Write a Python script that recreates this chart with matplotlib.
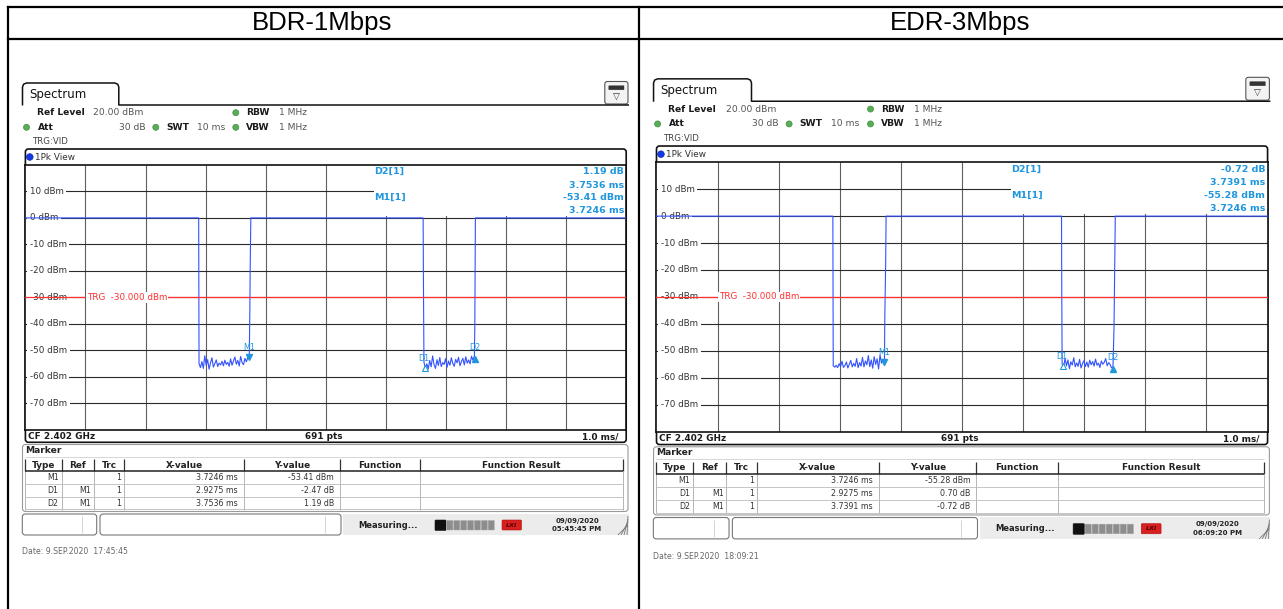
import numpy as np
import matplotlib.pyplot as plt
from matplotlib.patches import FancyBboxPatch, Rectangle, Circle
from matplotlib.transforms import offset_copy

W, H = 1283, 609

titles = ['BDR-1Mbps', 'EDR-3Mbps']

# analyzer settings shown in the header
ref_level = 20.0
att_db = 30
swt_ms = 10
rbw = '1 MHz'
vbw = '1 MHz'
cf = 'CF 2.402 GHz'
n_pts = 691
trg_level = -30.0

level_ticks = [10, 0, -10, -20, -30, -40, -50, -60, -70]
time_grid = [1, 2, 3, 4, 5, 6, 7, 8, 9]

# trace pieces: burst edges (ms, dBm) around the two gaps
bdr_edges = [[(0.0, 0.0), (2.884, 0.0)],
             [(3.735, -36.3), (3.742, -18.0), (3.752, 0.0), (6.620, 0.0), (6.626, -27.0)],
             [(7.480, -41.4), (7.490, 0.0), (10.0, 0.0)]]
bdr_gaps = [(2.890, 3.726), (6.634, 7.473)]
bdr_noise_1 = [-55.2, -56.6, -54.3, -56.9, -52.1, -55.8, -53.6, -57.2, -54.8, -52.9,
               -56.4, -55.1, -53.7, -56.2, -54.9, -55.6, -54.2, -55.9, -53.8, -55.4,
               -54.6, -56.1, -53.3, -55.7, -54.1, -52.6, -55.3, -53.9, -56.0, -52.4,
               -54.7, -55.5, -53.1, -54.4, -52.8, -53.4]
bdr_noise_2 = [-54.6, -56.8, -55.2, -57.1, -53.9, -56.3, -52.2, -55.5, -56.9, -53.6,
               -55.8, -52.8, -56.2, -54.7, -55.4, -53.2, -56.5, -54.1, -55.7, -52.9,
               -55.0, -56.1, -53.5, -54.8, -52.7, -55.9, -54.3, -53.1, -55.6, -52.5,
               -54.9, -53.7, -55.2, -52.3, -53.8, -52.2]

edr_edges = [[(0.0, 0.0), (2.886, 0.0)],
             [(3.737, -36.4), (3.750, -18.3), (3.757, 0.0), (6.628, 0.0), (6.632, -27.6)],
             [(7.487, -41.3), (7.508, 0.0), (10.0, 0.0)]]
edr_gaps = [(2.892, 3.730), (6.638, 7.470)]
edr_noise_1 = [-55.6, -56.1, -55.4, -56.3, -54.8, -55.9, -53.9, -56.2, -55.5, -54.2,
               -56.4, -55.0, -53.6, -56.0, -54.7, -55.8, -52.9, -56.3, -54.4, -55.7,
               -52.5, -56.0, -53.8, -55.2, -51.8, -55.9, -53.4, -56.5, -52.2, -55.1,
               -53.0, -56.8, -51.6, -54.6, -53.2, -55.3]
edr_noise_2 = [-54.9, -56.2, -52.8, -55.6, -53.4, -56.7, -54.1, -55.3, -52.6, -56.0,
               -54.5, -55.8, -53.2, -56.4, -54.8, -53.7, -55.9, -54.2, -56.1, -53.5,
               -55.2, -54.0, -55.7, -53.1, -55.4, -54.6, -56.2, -53.8, -55.0, -54.3,
               -52.9, -55.6, -54.4, -55.1, -56.3, -56.0]

# marker table: M1 absolute, D1/D2 relative to M1
mk_names = ['M1', 'D1', 'D2']
mk_refs = ['', 'M1', 'M1']
bdr_mk_x = [3.7246, 2.9275, 3.7536]
bdr_mk_y = [-53.41, -2.47, 1.19]
edr_mk_x = [3.7246, 2.9275, 3.7391]
edr_mk_y = [-55.28, 0.70, -0.72]

bdr_stamp = ['09/09/2020', '05:45:45 PM', 'Date: 9.SEP.2020  17:45:45']
edr_stamp = ['09/09/2020', '06:09:20 PM', 'Date: 9.SEP.2020  18:09:21']

BLUE = '#1f96de'
TRACE = '#3352ff'
RED = '#ff3030'
FONT = 'DejaVu Sans'


def build_trace(edges, gaps, n1, n2):
    t, l = [], []
    pieces = [edges[0], list(zip(np.linspace(*gaps[0], len(n1)), n1)),
              edges[1], list(zip(np.linspace(*gaps[1], len(n2)), n2)), edges[2]]
    for p in pieces:
        for a, b in p:
            t.append(a)
            l.append(b)
    return t, l


fig = plt.figure(figsize=(W / 100, H / 100), dpi=100)
bg = fig.add_axes([0, 0, 1, 1])
bg.set_xlim(0, W)
bg.set_ylim(H, 0)
bg.axis('off')

# outer table
bg.plot([8, W], [6.5, 6.5], color='k', lw=1.6)
bg.plot([8, W], [39, 39], color='k', lw=1.6)
bg.plot([8, 8], [6.5, H], color='k', lw=1.6)
bg.plot([638.5, 638.5], [6.5, H], color='k', lw=1.6)
bg.text(322, 23, titles[0], ha='center', va='center', fontsize=18.5, family='Liberation Sans')
bg.text(960, 23, titles[1], ha='center', va='center', fontsize=18.5, family='Liberation Sans')


def draw_panel(ox, oy, sx, sy, tr_t, tr_l, mk_x, mk_y, stamp):
    def P(x, y):
        return ox + (x - 25.4) * sx, oy + (y - 165.0) * sy

    def txt(x, y, s, size=6.6, **kw):
        X, Y = P(x, y)
        kw.setdefault('va', 'center')
        kw.setdefault('color', '#1a1a1a')
        bg.text(X, Y, s, fontsize=size, family=FONT, **kw)

    def seg(xs, ys, **kw):
        pts = np.array([P(x, y) for x, y in zip(xs, ys)])
        bg.plot(pts[:, 0], pts[:, 1], solid_capstyle='butt', **kw)

    def rbox(x0, y0, x1, y1, r=3.0, **kw):
        X0, Y0 = P(x0, y0)
        X1, Y1 = P(x1, y1)
        bg.add_patch(FancyBboxPatch((X0, Y0), X1 - X0, Y1 - Y0,
                                    boxstyle=f'round,pad=0,rounding_size={r}', **kw))

    def dot(x, y, r=3.0, fc='#58ad58', ec='#3f8f3f'):
        X, Y = P(x, y)
        bg.add_patch(Circle((X, Y), r, fc=fc, ec=ec, lw=0.5))

    # Spectrum tab and settings
    seg([22.5, 22.5, 23.6, 26.5, 114.8, 117.7, 118.8, 118.8, 629],
        [105.5, 87, 84.2, 83, 83, 84.2, 87, 105, 105], color='#111', lw=1.1)
    txt(29.5, 94.5, 'Spectrum', size=8.5, color='#111')
    rbox(604.8, 81.5, 628, 104, r=2.5, fc='#f3f3f3', ec='#555', lw=0.8)
    rbox(608.8, 85.8, 624, 89.8, r=0.4, fc='#333', ec='#333', lw=0.3)
    txt(616.4, 97.5, '\u25bd', size=6.5, ha='center', color='#333')

    txt(37, 112.7, 'Ref Level', weight='bold')
    txt(93.4, 112.7, f'{ref_level:.2f} dBm', color='#555')
    dot(235.8, 112.7)
    txt(246, 112.7, 'RBW', weight='bold')
    txt(278.7, 112.7, rbw, color='#555')
    dot(26.5, 127.3)
    txt(37.7, 127.3, 'Att', weight='bold')
    txt(145.5, 127.3, f'{att_db} dB', ha='right', color='#555')
    dot(155.8, 127.3)
    txt(166, 127.3, 'SWT', weight='bold')
    txt(196.7, 127.3, f'{swt_ms} ms', color='#555')
    dot(235.8, 127.3)
    txt(246, 127.3, 'VBW', weight='bold')
    txt(278.7, 127.3, vbw, color='#555')
    txt(32.8, 141.7, 'TRG:VID', size=6.2, color='#444')

    # diagram frame
    rbox(25.4, 149, 626.2, 442.3, r=3, fc='white', ec='#111', lw=1.2)
    dot(29.8, 157, r=3.3, fc='#1438e6', ec='#0a2ab0')
    txt(34.8, 157, '1Pk View', size=6.4, color='#333')
    txt(27.5, 436.5, cf, size=6.4, weight='bold')
    txt(323.8, 436.5, f'{n_pts} pts', size=6.4, weight='bold', ha='center')
    txt(618, 436.5, f'{swt_ms / 10:.1f} ms/', size=6.4, weight='bold', ha='right')

    X0, Y0 = P(25.4, 165)
    X1, Y1 = P(626.2, 429.5)
    ax = fig.add_axes([X0 / W, 1 - Y1 / H, (X1 - X0) / W, (Y1 - Y0) / H])
    ax.set_xlim(0, 10)
    ax.set_ylim(ref_level - 100, ref_level)
    ax.set_xticks([])
    ax.set_yticks([])
    for sp in ax.spines.values():
        sp.set_color('#111')
        sp.set_linewidth(1.2)
    ax.vlines(time_grid, ref_level - 100, ref_level, color='#5e5e5e', lw=0.8, zorder=1)
    ax.hlines(level_ticks, 0, 10, color='#2a2a2a', lw=0.8, zorder=1)
    ax.add_patch(Rectangle((5.8, 0.9), 4.2, 19.1, fc='white', ec='none', zorder=2))
    for L in level_ticks:
        ax.text(0.07, L, f'{L} dBm', fontsize=6.3, family=FONT, color='#333', va='center',
                bbox=dict(fc='white', ec='none', pad=2.0), zorder=3)

    ax.plot(tr_t, tr_l, color=TRACE, lw=0.8, zorder=4)
    ax.axhline(trg_level, color=RED, lw=0.9, zorder=5)
    ax.text(1.02, trg_level, f'TRG  {trg_level:.3f} dBm', fontsize=6.3, family=FONT,
            color=RED, va='center', bbox=dict(fc='white', ec='none', pad=0.6), zorder=6)

    # markers
    m1t, m1l = mk_x[0], mk_y[0]
    mt = [m1t] + [m1t + d for d in mk_x[1:]]
    ml = [m1l] + [m1l + d for d in mk_y[1:]]

    def off(dx, dy):
        return offset_copy(ax.transData, fig=fig, x=dx * 0.72, y=-dy * 0.72, units='points')

    ax.plot(mt[0], ml[0], 'v', ms=4.8, color=BLUE, transform=off(0, -2.5), zorder=7)
    ax.text(mt[0], ml[0], 'M1', transform=off(0, -12), fontsize=5.8, family=FONT,
            color=BLUE, ha='center', va='center', zorder=7)
    ax.plot(mt[1], ml[1], '^', ms=4.8, mfc='white', mec=BLUE, mew=0.8,
            transform=off(0, 2.5), zorder=7)
    ax.text(mt[1], ml[1], 'D1', transform=off(-1, -7), fontsize=5.8, family=FONT,
            color=BLUE, ha='center', va='center', zorder=7)
    ax.plot(mt[2], ml[2], '^', ms=4.8, color=BLUE, transform=off(0, 2.5), zorder=7)
    ax.text(mt[2], ml[2], 'D2', transform=off(0, -9), fontsize=5.8, family=FONT,
            color=BLUE, ha='center', va='center', zorder=7)

    # marker info in the diagram
    def atxt(x, y, s, **kw):
        ax.text((x - 25.4) / 600.8, 1 - (y - 165) / 264.5, s, transform=ax.transAxes,
                fontsize=6.8, family=FONT, weight='bold', color=BLUE, va='center',
                zorder=3, **kw)
    atxt(374, 171.7, f'{mk_names[2]}[1]')
    atxt(624, 171.7, f'{mk_y[2]:.2f} dB', ha='right')
    atxt(624, 185, f'{mk_x[2]:.4f} ms', ha='right')
    atxt(374, 197.7, f'{mk_names[0]}[1]')
    atxt(624, 197.7, f'{mk_y[0]:.2f} dBm', ha='right')
    atxt(624, 210.7, f'{mk_x[0]:.4f} ms', ha='right')

    # marker table
    rbox(22.5, 444.5, 628, 511.5, r=3, fc='white', ec='#9a9a9a', lw=0.8)
    txt(25.5, 450.5, 'Marker', size=6.6, weight='bold', color='#222')
    cols = [25, 61.7, 94, 124, 244, 340, 420, 623]
    heads = ['Type', 'Ref', 'Trc', 'X-value', 'Y-value', 'Function', 'Function Result']
    seg([25, 623], [457, 457], color='#d0d0d0', lw=0.6)
    for i, hname in enumerate(heads):
        txt((cols[i] + cols[i + 1]) / 2, 465, hname, size=6.4, weight='bold', ha='center', color='#222')
    for c in cols:
        seg([c, c], [459, 471], color='#333', lw=0.9)
        seg([c, c], [471, 509.5], color='#aaaaaa', lw=0.6)
    seg([25, 623], [471.2, 471.2], color='#222', lw=1.1)
    rows_y = [478, 490.5, 503]
    for r, ry in enumerate(rows_y):
        seg([25, 623], [ry + 6.3, ry + 6.3], color='#bbbbbb', lw=0.6)
        txt(58.5, ry, mk_names[r], size=5.7, ha='right', color='#333')
        txt(91.5, ry, mk_refs[r], size=5.7, ha='right', color='#333')
        txt(121, ry, '1', size=5.7, ha='right', color='#333')
        txt(238, ry, f'{mk_x[r]:.4f} ms', size=5.7, ha='right', color='#333')
        unit = 'dBm' if r == 0 else 'dB'
        txt(334, ry, f'{mk_y[r]:.2f} {unit}', size=5.7, ha='right', color='#333')

    # status bar
    sx0, sy0 = P(343, 513.5)
    sx1, sy1 = P(629, 535)
    bg.add_patch(Rectangle((sx0, sy0), sx1 - sx0, sy1 - sy0, fc='#ececec', ec='none'))
    rbox(22.3, 514, 96.7, 535, r=3, fc='white', ec='#777', lw=0.8)
    seg([81.7, 81.7], [516, 533], color='#cccccc', lw=0.6)
    rbox(100, 514, 341, 535, r=3, fc='white', ec='#777', lw=0.8)
    seg([325, 325], [516, 533], color='#cccccc', lw=0.6)
    txt(358.3, 525, 'Measuring...', size=6.0, weight='bold', color='#222')
    rbox(435, 520, 446, 530.5, r=0.8, fc='#111', ec='#111', lw=0.4)
    for k in range(7):
        rbox(446.8 + k * 6.9, 520.5, 452.9 + k * 6.9, 530, r=0.3, fc='#8d8d8d', ec='#a8a8a8', lw=0.3)
    rbox(502, 520, 521.5, 530, r=1, fc='#d82020', ec='#b01010', lw=0.4)
    txt(511.8, 525.2, 'LXI', size=4.6, weight='bold', style='italic', ha='center', color='#5a0000')
    txt(577, 520.7, stamp[0], size=5.0, weight='bold', ha='center', color='#222')
    txt(577, 529.2, stamp[1], size=5.0, weight='bold', ha='center', color='#222')
    for k in range(4):
        seg([618 + k * 3, 628], [535, 525 - k * 3], color='#777', lw=0.6)
    txt(22, 552, stamp[2], size=5.6, color='#666')


bdr_t, bdr_l = build_trace(bdr_edges, bdr_gaps, bdr_noise_1, bdr_noise_2)
edr_t, edr_l = build_trace(edr_edges, edr_gaps, edr_noise_1, edr_noise_2)

draw_panel(25.4, 165.0, 1.0, 1.0, bdr_t, bdr_l, bdr_mk_x, bdr_mk_y, bdr_stamp)
draw_panel(656.5, 162.3, 1.0171, 1.0178, edr_t, edr_l, edr_mk_x, edr_mk_y, edr_stamp)

fig.savefig('out.png', dpi=100)
